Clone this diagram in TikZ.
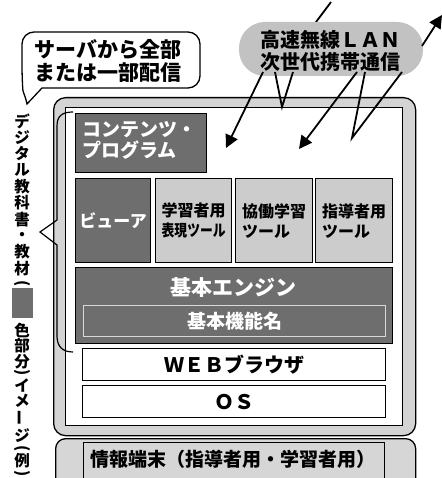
\documentclass[tikz,border=0pt]{standalone}
\usepackage{fontspec}
\setmainfont{Noto Sans CJK JP}
\usetikzlibrary{arrows.meta}
\definecolor{darkfill}{gray}{0.43}
\definecolor{lightfill}{gray}{0.80}
\definecolor{framefill}{gray}{0.83}
\definecolor{lanfill}{gray}{0.76}
\definecolor{termfill}{gray}{0.84}
\tikzset{
  frameline/.style={draw=black, line width=1.3pt},
  darkbox/.style={frameline, fill=darkfill, text=white, inner sep=0pt, anchor=north west},
  toolbox/.style={frameline, fill=lightfill, text=black, inner sep=0pt, anchor=north west,
    font=\fontsize{16}{20}\selectfont\bfseries, text width=64pt, align=left},
  whitebox/.style={frameline, fill=white, inner sep=0pt, anchor=north west,
    font=\fontsize{20}{22}\selectfont\bfseries},
  vchar/.style={inner sep=0pt, font=\fontsize{15.5}{15.5}\selectfont\bfseries},
  wave/.style={draw=black, line width=1.8pt},
  wavearrow/.style={wave, -{Triangle[length=13pt,width=13pt]}},
}
\begin{document}
\begin{tikzpicture}[x=1pt,y=-1pt]
\useasboundingbox (0,0) rectangle (441,478);

% speech bubble
\draw[line width=1.3pt, fill=white, rounded corners=12pt]
  (42,88) -- (200,88) -- (200,32) -- (22,32) -- (22,78) [sharp corners] .. controls (23,92) and (26,98) .. (27,104) -- cycle;
\node[inner sep=0pt, align=center, font=\fontsize{21}{23}\selectfont\bfseries] (bubble) at (108,61) {サーバから全部\\または一部配信};

% top line into the LAN cloud
\coordinate (t0) at (331,2);
\coordinate (t1) at (313,26);
\draw[wave] (t0) -- (t1);

% LAN cloud
\node[fill=lanfill, rounded corners=26pt, minimum width=184pt, minimum height=54pt, inner sep=0pt] (lan) at (331,49) {};
\node[inner sep=0pt, align=center, font=\fontsize{20}{22}\selectfont\bfseries] (lantext) at (330,51) {高速無線ＬＡＮ\\次世代携帯通信};

% device frame
\node[frameline, fill=framefill, rounded corners=12pt, minimum width=362pt, minimum height=338pt, inner sep=0pt, anchor=north west] (device) at (53,97) {};
\node[frameline, fill=white, minimum width=337pt, minimum height=318pt, inner sep=0pt, anchor=north west] (screen) at (65,107) {};

% terminal
\node[frameline, fill=termfill, rounded corners=10pt, minimum width=360pt, minimum height=60pt, inner sep=0pt, anchor=north west] (terminal) at (55,438) {};
\node[frameline, fill=termfill, minimum width=301pt, minimum height=45pt, inner sep=0pt, anchor=north west] (terminner) at (83,442) {};
\node[inner sep=0pt, font=\fontsize{19}{20}\selectfont\bfseries] (termtext) at (233,459) {情報端末（指導者用・学習者用）};

% content boxes
\node[darkbox, minimum width=131pt, minimum height=59pt] (contents) at (75,113) {};
\node[inner sep=0pt, text=white, align=left, anchor=north west, font=\fontsize{19}{21}\selectfont\bfseries] (contentstext) at (82,121) {コンテンツ・\\プログラム};

\node[darkbox, minimum width=75pt, minimum height=84pt, font=\fontsize{17}{20}\selectfont\bfseries] (viewer) at (75,178) {ビューア};
\node[toolbox, minimum width=76pt, minimum height=84pt] (learner) at (155,178) {学習者用\\\scalebox{0.8}[1]{表現ツール}};
\node[toolbox, minimum width=77pt, minimum height=84pt] (collab) at (235,178) {協働学習\\ツール};
\node[toolbox, minimum width=77pt, minimum height=84pt] (teacher) at (315,178) {指導者用\\ツール};

\node[darkbox, minimum width=317pt, minimum height=76pt] (engine) at (75,267) {};
\node[inner sep=0pt, text=white, font=\fontsize{21}{22}\selectfont\bfseries] (enginetext) at (233,288) {基本エンジン};
\node[draw=white!85!black, line width=1.2pt, fill=darkfill, text=white, inner sep=0pt, anchor=north west,
  minimum width=302pt, minimum height=31pt, font=\fontsize{19}{20}\selectfont\bfseries] (basic) at (83,305) {基本機能名};

\node[whitebox, minimum width=303pt, minimum height=32pt] (browser) at (82,348) {ＷＥＢブラウザ};
\node[whitebox, minimum width=303pt, minimum height=32pt] (os) at (82,385) {ＯＳ};

% wireless lines
\coordinate (a1s) at (263,72); \coordinate (a1e) at (226,148);
\coordinate (v1a) at (275,72); \coordinate (v1b) at (282,107); \coordinate (v1c) at (293,72);
\coordinate (a2s) at (357,72); \coordinate (a2e) at (299,149);
\coordinate (v2a) at (365,72); \coordinate (v2b) at (352,138); \coordinate (v2c) at (402,72);
\coordinate (a3s) at (422,46); \coordinate (a3e) at (442,15);
\draw[wavearrow] (a1s) -- (a1e);
\draw[wave, line join=miter] (v1a) -- (v1b) -- (v1c);
\draw[wavearrow] (a2s) -- (a2e);
\draw[wave, line join=miter] (v2a) -- (v2b) -- (v2c);
\draw[wavearrow] (a3s) -- (a3e);

% brace
\draw[line width=1.2pt] (73,112) .. controls (62,112) and (57,116) .. (57,126) -- (57,220) -- (40,232) -- (57,245) -- (57,336) .. controls (57,346) and (62,352) .. (73,352);

% vertical caption
\foreach \c/\y [count=\i] in {デ/121, ジ/137.5, タ/154, ル/170, 教/186.5, 科/203, 書/219.5, ・/236, 教/252, 材/268.5,
  色/330, 部/346, 分/362, イ/385, メ/401, ジ/436, 例/461}
  \node[vchar] (vc\i) at (22,\y) {\c};
\node[vchar] (vbar) at (22,418) {\rotatebox{90}{ー}};
\node[vchar] (vpo1) at (22,284) {\rotatebox{-90}{(}};
\node[vchar] (vpc1) at (22,372.5) {\rotatebox{-90}{)}};
\node[vchar] (vpo2) at (22,448.5) {\rotatebox{-90}{(}};
\node[vchar] (vpc2) at (22,473.5) {\rotatebox{-90}{)}};
\node[fill=darkfill, minimum width=21pt, minimum height=30pt, inner sep=0pt] (swatch) at (22,303) {};
\end{tikzpicture}
\end{document}
